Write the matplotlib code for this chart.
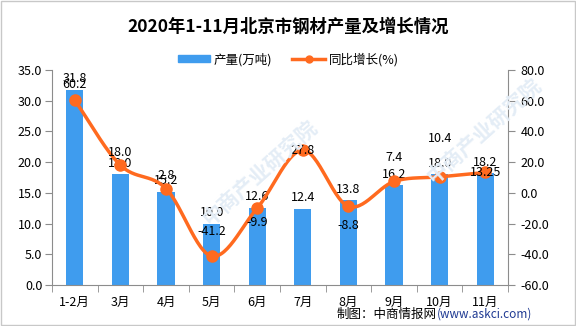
import numpy as np
import matplotlib
matplotlib.use("Agg")
import matplotlib.pyplot as plt
from matplotlib.lines import Line2D
from matplotlib.patches import Patch, Rectangle

plt.rcParams['font.family'] = ['Noto Sans CJK SC', 'DejaVu Sans']

months = ["1-2月", "3月", "4月", "5月", "6月", "7月", "8月", "9月", "10月", "11月"]
output = [31.8, 18.0, 15.2, 10.0, 12.6, 12.4, 13.8, 16.2, 18.0, 18.2]
growth = [60.2, 18.0, 2.8, -41.2, -9.9, 27.8, -8.8, 7.4, 10.4, 13.25]
growth_text = ["60.2", "18.0", "2.8", "-41.2", "-9.9", "27.8", "-8.8", "7.4", "10.4", "13.25"]
# label shift (pixels) for the growth labels, as laid out in the source image
growth_shift = [16, 13, 13, 25, -14, 0, -19, 24, 38, 0]

BAR = "#3f9cee"
LINE = "#ff6a1f"
GRAY = "#8c8c8c"


def smooth(xs, ys, n=30):
    # catmull-rom curve through the points
    xs = np.asarray(xs, float)
    ys = np.asarray(ys, float)
    px = np.concatenate([[2 * xs[0] - xs[1]], xs, [2 * xs[-1] - xs[-2]]])
    py = np.concatenate([[2 * ys[0] - ys[1]], ys, [2 * ys[-1] - ys[-2]]])
    t = np.linspace(0, 1, n)
    ox, oy = [], []
    for i in range(1, len(px) - 2):
        for p, o in ((px, ox), (py, oy)):
            p0, p1, p2, p3 = p[i - 1], p[i], p[i + 1], p[i + 2]
            o.extend(0.5 * (2 * p1 + (-p0 + p2) * t + (2 * p0 - 5 * p1 + 4 * p2 - p3) * t ** 2
                            + (-p0 + 3 * p1 - 3 * p2 + p3) * t ** 3))
    return np.array(ox), np.array(oy)


fig = plt.figure(figsize=(5.76, 3.26), dpi=100)
fig.patches.append(Rectangle((0.002, 0.003), 0.996, 0.994, transform=fig.transFigure,
                             fill=False, edgecolor="#c8c8c8", lw=1))

# watermark
for wx, wy in [(0.45, 0.47), (0.84, 0.6)]:
    fig.text(wx, wy, "中商产业研究院", rotation=42, fontsize=15, color="#e4edf6",
             ha="center", va="center", fontweight="bold", zorder=0)

ax = fig.add_axes([0.0903, 0.1258, 0.7917, 0.6595])
ax.patch.set_alpha(0)
x = np.arange(len(months))
ax.bar(x, output, width=0.38, color=BAR, zorder=2)
ax.set_xlim(-0.5, len(months) - 0.5)
ax.set_ylim(0, 35)
ax.set_yticks(np.arange(0, 35.1, 5))
ax.set_yticklabels(["%.1f" % v for v in np.arange(0, 35.1, 5)])
ax.set_xticks(x)
ax.set_xticklabels(months)
ax.set_xticks(np.arange(-0.5, len(months)), minor=True)
ax.tick_params(axis="x", which="major", length=0, pad=8, labelsize=9)
ax.tick_params(axis="x", which="minor", length=5, color=GRAY)
ax.tick_params(axis="y", length=5, color=GRAY, labelsize=9, pad=2)
for s in ["top", "right"]:
    ax.spines[s].set_visible(False)
for s in ["left", "bottom"]:
    ax.spines[s].set_color(GRAY)

for xi, v in zip(x, output):
    ax.annotate("%.1f" % v, (xi, v), xytext=(0, 11), textcoords="offset pixels",
                ha="center", va="center", fontsize=9, zorder=5)

ax2 = ax.twinx()
ax2.set_ylim(-60, 80)
ax2.set_yticks(np.arange(-60, 80.1, 20))
ax2.set_yticklabels(["%.1f" % v for v in np.arange(-60, 80.1, 20)])
ax2.tick_params(axis="y", length=5, color=GRAY, labelsize=9, pad=4)
for s in ["top", "left", "bottom"]:
    ax2.spines[s].set_visible(False)
ax2.spines["right"].set_color(GRAY)

sx, sy = smooth(x, growth)
ax2.plot(sx, sy, color=LINE, lw=2.5, zorder=3)
ax2.plot(x, growth, "o", color=LINE, ms=8, zorder=4)
for xi, v, t, d in zip(x, growth, growth_text, growth_shift):
    ax2.annotate(t, (xi, v), xytext=(0, d), textcoords="offset pixels",
                 ha="center", va="center", fontsize=9, zorder=5)

fig.text(0.5, 0.918, "2020年1-11月北京市钢材产量及增长情况", ha="center", va="center",
         fontsize=12.5, fontweight="bold")

handles = [Patch(color=BAR),
           Line2D([], [], color=LINE, lw=2.5, marker="o", ms=5)]
fig.legend(handles, ["产量(万吨)", "同比增长(%)"], loc="center", bbox_to_anchor=(0.5, 0.818),
           ncol=2, frameon=False, fontsize=9, handlelength=2.6, handleheight=0.5,
           columnspacing=1.6, handletextpad=0.3)

fig.text(0.758, 0.036, "制图：中商情报网", ha="right", va="center", fontsize=9)
fig.text(0.758, 0.036, "(www.askci.com)", ha="left", va="center", fontsize=8.5, color="#1f3a93")

fig.savefig("out.png", dpi=100)
